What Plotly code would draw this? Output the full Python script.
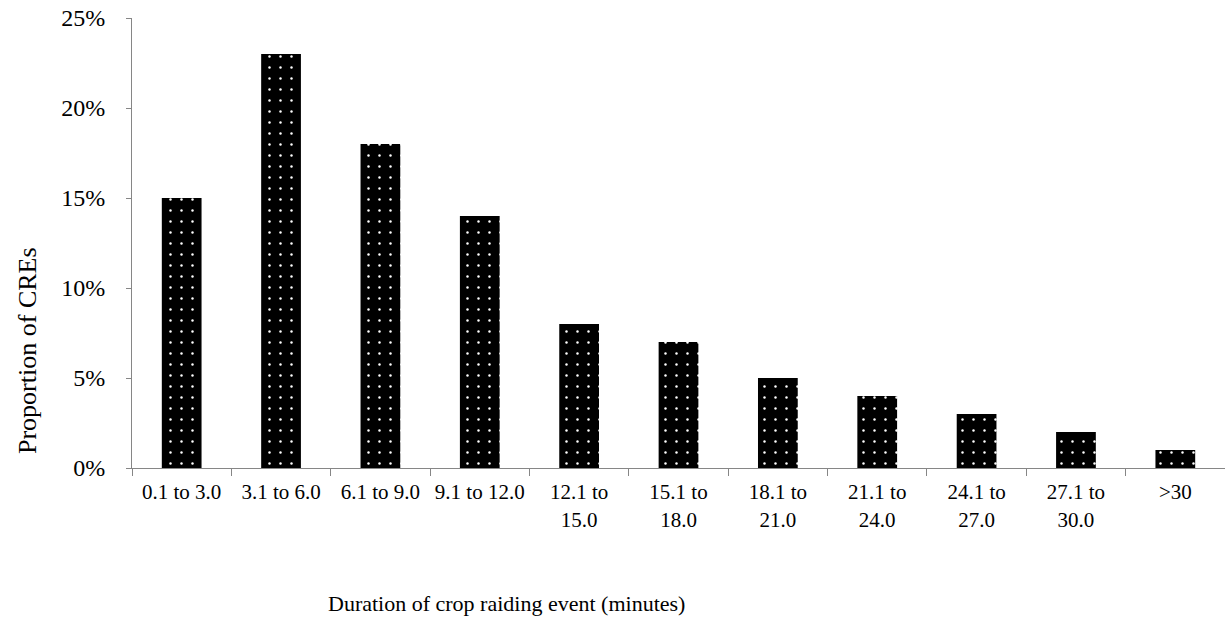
import plotly.graph_objects as go

categories = ["0.1 to 3.0", "3.1 to 6.0", "6.1 to 9.0", "9.1 to 12.0",
              "12.1 to<br>15.0", "15.1 to<br>18.0", "18.1 to<br>21.0",
              "21.1 to<br>24.0", "24.1 to<br>27.0", "27.1 to<br>30.0", ">30"]
proportions = [0.15, 0.23, 0.18, 0.14, 0.08, 0.07, 0.05, 0.04, 0.03, 0.02, 0.01]
y_ticks = [0, 0.05, 0.10, 0.15, 0.20, 0.25]
x_title = "Duration of crop raiding event (minutes)"
y_title = "Proportion of CREs"

FONT = "Liberation Serif, Times New Roman, serif"
AXIS = "#868686"

W, H = 1225, 622
L, T, B, R = 132, 18, 154, 0

fig = go.Figure(go.Bar(
    x=categories, y=proportions,
    marker=dict(color="black",
                line=dict(width=0),
                pattern=dict(shape=".", fgcolor="white", bgcolor="black",
                             size=11, solidity=0.04, fillmode="replace")),
))

pw = W - L - R
ph = H - T - B


def px_to_paper(xp, yp):
    return ((xp - L) / pw, (H - B - yp) / ph)


xt = px_to_paper(506, 603)
yt = px_to_paper(27, 350)

fig.update_layout(
    width=W, height=H,
    margin=dict(l=L, r=R, t=T, b=B, autoexpand=False),
    paper_bgcolor="white", plot_bgcolor="white",
    bargap=0.6, showlegend=False,
    font=dict(family=FONT, color="black"),
    xaxis=dict(showline=True, linecolor=AXIS, linewidth=1,
               ticks="outside", tickcolor=AXIS, ticklen=7, tickwidth=1,
               tickson="boundaries", showgrid=False,
               tickfont=dict(size=21, family=FONT, color="black"),
               ticklabelstandoff=5, tickangle=0),
    yaxis=dict(range=[0, 0.25], tickvals=y_ticks, tickformat=".0%",
               showline=True, linecolor=AXIS, linewidth=1,
               ticks="outside", tickcolor=AXIS, ticklen=5, tickwidth=1,
               showgrid=False, zeroline=False,
               ticklabeloverflow="allow",
               tickfont=dict(size=24, family=FONT, color="black"),
               ticklabelstandoff=16),
    annotations=[
        dict(text=x_title, x=xt[0], y=xt[1], xref="paper", yref="paper",
             xanchor="center", yanchor="middle", showarrow=False,
             font=dict(size=22, family=FONT, color="black")),
        dict(text=y_title, x=yt[0], y=yt[1], xref="paper", yref="paper",
             xanchor="center", yanchor="middle", showarrow=False,
             textangle=-90, font=dict(size=26, family=FONT, color="black")),
    ],
)

# remove the page's default body margin so the figure sits at the window origin
fig.write_html("out.html",
               config={"displayModeBar": False},
               post_script="document.body.style.margin='0';document.body.style.overflow='hidden';")
